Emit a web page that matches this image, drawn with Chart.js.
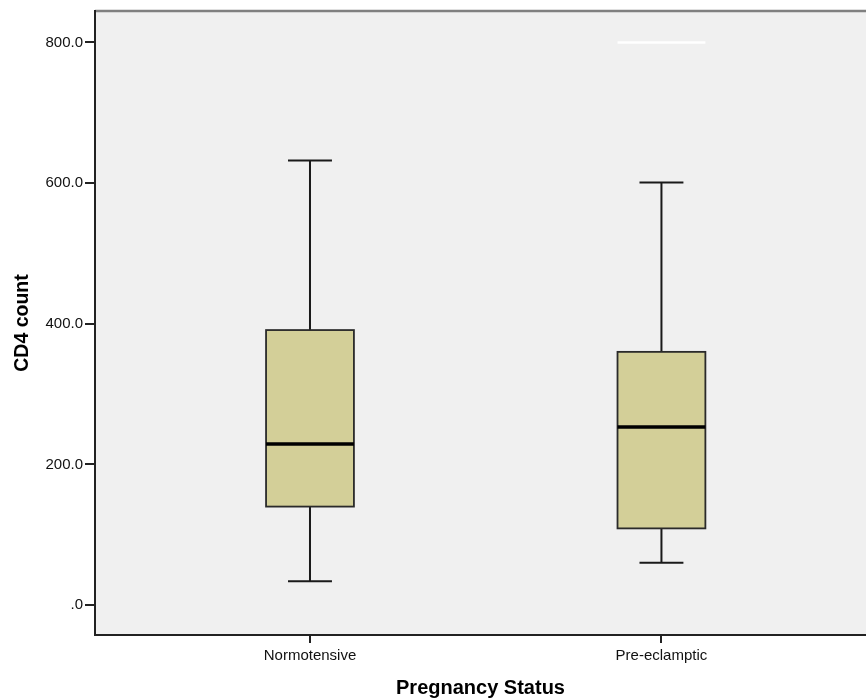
<!DOCTYPE html>
<html>
<head>
<meta charset="utf-8">
<script src="https://cdn.jsdelivr.net/npm/chart.js@4"></script>
<style>
  body { margin: 0; background: #fff; overflow: hidden; }
  #wrap { width: 866px; height: 700px; }
</style>
</head>
<body>
<div id="wrap"><canvas id="box-chart"></canvas></div>
<script>
// Data
const categories = ['Normotensive', 'Pre-eclamptic'];
const whiskerLow = [34, 60];
const q1 = [140, 109];
const median = [229, 253];
const q3 = [391, 360];
const whiskerHigh = [632, 601];
const extremeMarks = [null, 800];
const yTicks = [0, 200, 400, 600, 800];

const boxFill = '#d3cf98';
const lineColor = '#1a1a1a';

// Draws plot background and top border
const backgroundPlugin = {
  id: 'plotBackground',
  beforeDraw(chart) {
    const { ctx, chartArea: a } = chart;
    ctx.save();
    ctx.fillStyle = '#f0f0f0';
    ctx.fillRect(a.left, a.top, a.right - a.left, a.bottom - a.top);
    ctx.strokeStyle = '#808080';
    ctx.lineWidth = 2.5;
    ctx.beginPath();
    ctx.moveTo(a.left, a.top);
    ctx.lineTo(a.right, a.top);
    ctx.stroke();
    ctx.restore();
  }
};

// Draws boxes, whiskers and medians using the chart scales
const boxPlugin = {
  id: 'boxes',
  afterDatasetsDraw(chart) {
    const { ctx, scales: { x, y } } = chart;
    const halfBox = 0.125;
    const halfCap = 0.0625;
    ctx.save();
    categories.forEach((cat, i) => {
      const cx = x.getPixelForValue(i);
      const left = x.getPixelForValue(i - halfBox);
      const right = x.getPixelForValue(i + halfBox);
      const capL = x.getPixelForValue(i - halfCap);
      const capR = x.getPixelForValue(i + halfCap);
      const yLow = y.getPixelForValue(whiskerLow[i]);
      const yQ1 = y.getPixelForValue(q1[i]);
      const yMed = y.getPixelForValue(median[i]);
      const yQ3 = y.getPixelForValue(q3[i]);
      const yHigh = y.getPixelForValue(whiskerHigh[i]);

      ctx.strokeStyle = lineColor;
      ctx.lineWidth = 2;
      ctx.beginPath();
      ctx.moveTo(cx, yQ3); ctx.lineTo(cx, yHigh);
      ctx.moveTo(capL, yHigh); ctx.lineTo(capR, yHigh);
      ctx.moveTo(cx, yQ1); ctx.lineTo(cx, yLow);
      ctx.moveTo(capL, yLow); ctx.lineTo(capR, yLow);
      ctx.stroke();

      ctx.fillStyle = boxFill;
      ctx.fillRect(left, yQ3, right - left, yQ1 - yQ3);
      ctx.strokeStyle = '#2a2a2a';
      ctx.lineWidth = 1.8;
      ctx.strokeRect(left, yQ3, right - left, yQ1 - yQ3);

      ctx.strokeStyle = '#000';
      ctx.lineWidth = 3.5;
      ctx.beginPath();
      ctx.moveTo(left, yMed); ctx.lineTo(right, yMed);
      ctx.stroke();

      if (extremeMarks[i] !== null) {
        const yE = y.getPixelForValue(extremeMarks[i]);
        ctx.strokeStyle = '#ffffff';
        ctx.lineWidth = 2.5;
        ctx.beginPath();
        ctx.moveTo(left, yE); ctx.lineTo(right, yE);
        ctx.stroke();
      }
    });
    ctx.restore();
  }
};

const fontFamily = '"Liberation Sans", Arial, sans-serif';

new Chart(document.getElementById('box-chart'), {
  type: 'scatter',
  data: {
    datasets: [{
      label: 'CD4 count',
      data: categories.map((c, i) => ({ x: i, y: median[i] })),
      pointRadius: 0,
      pointHoverRadius: 0
    }]
  },
  options: {
    responsive: true,
    maintainAspectRatio: false,
    animation: false,
    events: [],
    layout: { padding: { top: 10, left: 0, right: 0, bottom: 0 } },
    plugins: {
      legend: { display: false },
      tooltip: { enabled: false }
    },
    scales: {
      x: {
        type: 'linear',
        min: -0.6117,
        max: 1.582,
        afterBuildTicks(scale) {
          scale.ticks = categories.map((c, i) => ({ value: i }));
        },
        afterFit(scale) { scale.height = 65; },
        grid: { drawOnChartArea: false, tickLength: 8, color: '#222', lineWidth: 2 },
        border: { display: true, color: '#222', width: 2 },
        ticks: {
          padding: 4,
          color: '#111',
          font: { family: fontFamily, size: 15 },
          callback: (v) => categories[v]
        },
        title: {
          display: true,
          text: 'Pregnancy Status',
          color: '#000',
          padding: 0,
          font: { family: fontFamily, size: 20, weight: 'bold' }
        }
      },
      y: {
        min: -42.6,
        max: 844.7,
        afterBuildTicks(scale) {
          scale.ticks = yTicks.map(v => ({ value: v }));
        },
        afterFit(scale) { scale.width = 95; },
        grid: { drawOnChartArea: false, tickLength: 10, color: '#222', lineWidth: 2 },
        border: { display: true, color: '#222', width: 2 },
        ticks: {
          padding: 2,
          color: '#111',
          font: { family: fontFamily, size: 15 },
          callback: (v) => v === 0 ? '.0' : v.toFixed(1)
        },
        title: {
          display: true,
          text: 'CD4 count',
          color: '#000',
          padding: { top: 11, bottom: 0 },
          font: { family: fontFamily, size: 19.5, weight: 'bold' }
        }
      }
    }
  },
  plugins: [backgroundPlugin, boxPlugin]
});
</script>
</body>
</html>
